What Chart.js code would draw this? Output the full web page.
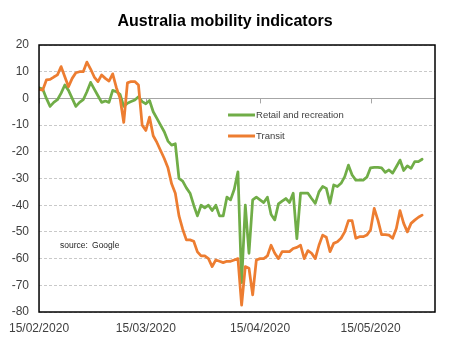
<!DOCTYPE html>
<html>
<head>
<meta charset="utf-8">
<script src="https://cdn.jsdelivr.net/npm/chart.js@4.4.1/dist/chart.umd.min.js"></script>
<style>
  html, body { margin: 0; padding: 0; background: #fff; }
  canvas { display: block; }
</style>
</head>
<body>
<canvas id="c" width="450" height="347"></canvas>
<script>
// Daily series, one value per day starting at startDate
const startDate = '15/02/2020';

const retailRecreation = [
  4, 3.5, 0, -3, -1.5, -0.5, 2, 5, 3, 0,
  -3, -1.5, -0.5, 2.5, 6, 3.5, 1, -1.5, -1, -1.5,
  3, 2.5, 1.5, -3, -1.8, -1.2, -0.6, 0.6, -1.2, -2,
  -0.8, -5, -7.5, -10, -12.5, -16, -17.5, -17, -30, -31,
  -33.5, -35.5, -40, -44, -40, -41, -40, -42, -40, -44,
  -44, -37, -38, -34, -27.5, -69, -40, -58, -38, -37,
  -38, -39, -37, -43.5, -45.5, -39.5, -38.5, -37.5, -39, -35.5,
  -52.5, -35.5, -35.5, -35.5, -37.5, -39.3, -35, -33, -33.7, -39.3,
  -32.4, -33, -31.8, -29.3, -25, -28.7, -30.6, -30.6, -30.6, -29.5,
  -26, -25.8, -25.8, -26, -27.7, -26.8, -28, -25.6, -23.1, -27,
  -25.3, -26.2, -23.7, -23.7, -22.8
];

const transit = [
  3.4, 3.1, 6.9, 7.1, 8, 8.8, 11.9, 8.1, 4.4, 7.5,
  9.6, 10, 10, 13.6, 11, 8, 6.3, 8.8, 7.5, 6.5,
  9.2, 4, 0, -9, 5.8, 6.3, 6.3, 5, -10, -12,
  -7, -14, -16.5, -19.5, -22.5, -26, -32, -35.5, -44, -49,
  -53, -53, -53.5, -57.5, -59, -59, -60, -63, -60.5, -61,
  -61.5, -61, -61, -60.5, -60, -77.4, -63, -63.6, -73.6, -60.5,
  -60, -60, -59, -55, -58, -60, -57.4, -57.4, -57.4, -56.2,
  -55.8, -55, -60, -57, -58, -60, -55, -51.2, -52, -57.4,
  -54.3, -53.7, -52.4, -50, -45.8, -45.8, -52.4, -51.8, -51.8, -51.2,
  -49.3, -41.2, -45.6, -51, -51, -51.2, -52.4, -48.7, -42, -46.8,
  -50, -46.8, -45.6, -44.5, -43.7
];

const chartTitle = 'Australia mobility indicators';
const seriesNames = ['Retail and recreation', 'Transit'];
const xTickLabels = ['15/02/2020', '15/03/2020', '15/04/2020', '15/05/2020'];
const sourceNote = ['source:', 'Google'];

// day offset of a dd/mm/yyyy label from the start date
function toUTC(label) {
  const [d, m, y] = label.split('/').map(Number);
  return Date.UTC(y, m - 1, d);
}
function dayOffset(label) {
  return Math.round((toUTC(label) - toUTC(startDate)) / 86400000);
}
const xTickDays = xTickLabels.map(dayOffset);
const toPoints = arr => arr.map((v, i) => ({ x: i, y: v }));

const FONT = "'Liberation Sans', Arial, sans-serif";
const GREEN = '#70AD47';
const ORANGE = '#ED7D31';

// title, frame, zero axis line with its tick marks, inline legend and source note
const decorations = {
  id: 'decorations',
  beforeDatasetsDraw(chart) {
    const { ctx, chartArea: a, scales: { x, y } } = chart;
    const y0 = y.getPixelForValue(0);
    ctx.save();
    ctx.strokeStyle = '#a6a6a6';
    ctx.lineWidth = 1;
    ctx.beginPath();
    ctx.moveTo(a.left, Math.round(y0) + 0.5);
    ctx.lineTo(a.right, Math.round(y0) + 0.5);
    xTickDays.forEach(d => {
      const px = Math.round(x.getPixelForValue(d)) + 0.5;
      ctx.moveTo(px, y0);
      ctx.lineTo(px, y0 + 5);
    });
    ctx.stroke();
    ctx.restore();
  },
  afterDraw(chart) {
    const { ctx, chartArea: a, width } = chart;
    ctx.save();

    // title, centred on the canvas
    ctx.font = `bold 16px ${FONT}`;
    ctx.fillStyle = '#000';
    ctx.textAlign = 'center';
    ctx.textBaseline = 'middle';
    ctx.fillText(chartTitle, width / 2, 22);

    // plot frame
    ctx.strokeStyle = '#000';
    ctx.lineWidth = 1.5;
    ctx.strokeRect(a.left, a.top, a.right - a.left, a.bottom - a.top);

    // legend inside the plot
    ctx.font = `9.5px ${FONT}`;
    ctx.textAlign = 'left';
    chart.data.datasets.forEach((ds, i) => {
      const lx = a.left + 189;
      const ly = a.top + 70 + i * 21;
      ctx.strokeStyle = ds.borderColor;
      ctx.lineWidth = 3;
      ctx.beginPath();
      ctx.moveTo(lx, ly);
      ctx.lineTo(lx + 27, ly);
      ctx.stroke();
      ctx.fillStyle = '#404040';
      ctx.fillText(ds.label, lx + 28, ly);
    });

    // source note
    ctx.font = `8.5px ${FONT}`;
    ctx.fillStyle = '#262626';
    ctx.fillText(sourceNote[0], a.left + 21, a.top + 201);
    ctx.fillText(sourceNote[1], a.left + 53, a.top + 201);
    ctx.restore();
  }
};

new Chart(document.getElementById('c'), {
  type: 'line',
  data: {
    datasets: [
      {
        label: seriesNames[0],
        data: toPoints(retailRecreation),
        borderColor: GREEN,
        backgroundColor: GREEN,
        borderWidth: 2.75,
        pointRadius: 0,
        borderJoinStyle: 'round',
        borderCapStyle: 'round',
        order: 1
      },
      {
        label: seriesNames[1],
        data: toPoints(transit),
        borderColor: ORANGE,
        backgroundColor: ORANGE,
        borderWidth: 2.75,
        pointRadius: 0,
        borderJoinStyle: 'round',
        borderCapStyle: 'round',
        order: 0
      }
    ]
  },
  options: {
    responsive: false,
    devicePixelRatio: 1,
    animation: false,
    parsing: false,
    layout: { padding: { left: 0, right: 15, top: 45, bottom: 0 } },
    plugins: {
      legend: { display: false },
      tooltip: { enabled: false },
      title: { display: false }
    },
    scales: {
      x: {
        type: 'linear',
        min: 0,
        max: 107.5,
        grid: { display: false, drawTicks: false },
        border: { display: false },
        afterBuildTicks: s => { s.ticks = xTickDays.map(v => ({ value: v })); },
        afterFit: s => { s.height = 35; },
        ticks: {
          autoSkip: false,
          maxRotation: 0,
          padding: 9,
          color: '#404040',
          font: { family: FONT, size: 12 },
          callback: v => xTickLabels[xTickDays.indexOf(v)]
        }
      },
      y: {
        min: -80,
        max: 20,
        grid: {
          color: ctx => (ctx.tick && ctx.tick.value === 0) ? 'rgba(0,0,0,0)' : '#c9c9c9',
          lineWidth: 1,
          drawTicks: false
        },
        border: { display: false, dash: [3, 2] },
        afterFit: s => { s.width = 36; },
        ticks: {
          stepSize: 10,
          padding: 10,
          color: '#404040',
          font: { family: FONT, size: 12 }
        }
      }
    }
  },
  plugins: [decorations]
});
</script>
</body>
</html>
